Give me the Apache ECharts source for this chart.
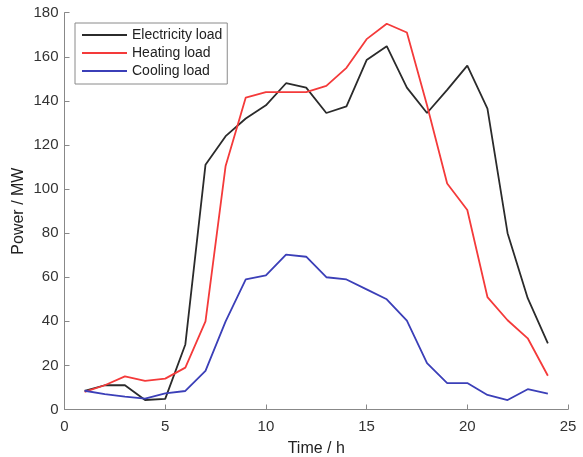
<!DOCTYPE html>
<html>
<head>
<meta charset="utf-8">
<script src="https://cdn.jsdelivr.net/npm/echarts@6/dist/echarts.min.js"></script>
<style>
  html, body { margin: 0; padding: 0; background: #fff; }
  #chart { width: 583px; height: 457px; }
</style>
</head>
<body>
<div id="chart"></div>
<script>
// Hourly load profiles (MW), hours 1..24
const hours = [1,2,3,4,5,6,7,8,9,10,11,12,13,14,15,16,17,18,19,20,21,22,23,24];
const electricityLoad = [8.5,11,11,4.3,4.8,29.5,111,124,132,138,148,146,134.5,137.5,158.5,164.8,146,134.5,145,156,136.5,80,50.5,30];
const heatingLoad = [8,11,15,13,14,19,40,110.5,141.5,144,144,144,146.8,155,168,175,171,138,102.5,90.5,51,40.5,32.3,15.3];
const coolingLoad = [8.5,7,5.8,4.9,7.3,8.4,17.5,40,59,60.8,70.3,69.3,60,59,54.5,50,40.3,21,12,12,6.6,4.3,9.2,7.2];

const seriesNames = ['Electricity load', 'Heating load', 'Cooling load'];
const seriesColors = ['#2b2b2b', '#f43a3a', '#3b3fb8'];
const seriesData = [electricityLoad, heatingLoad, coolingLoad];

const font = 'Liberation Sans, Arial, Helvetica, sans-serif';
const chart = echarts.init(document.getElementById('chart'));

chart.setOption({
  animation: false,
  backgroundColor: '#ffffff',
  grid: { left: 64.5, right: 15, top: 12.7, bottom: 47.5, containLabel: false, outerBoundsMode: 'none' },
  legend: {
    left: 75, top: 23,
    orient: 'vertical',
    data: seriesNames,
    icon: 'rect',
    itemWidth: 45, itemHeight: 2,
    itemGap: 2,
    padding: [4, 5, 5, 7],
    borderColor: '#8a8a8a', borderWidth: 1,
    backgroundColor: '#fff',
    textStyle: { fontFamily: font, fontSize: 14, color: '#222', lineHeight: 16 }
  },
  xAxis: {
    type: 'value', min: 0, max: 25, interval: 5,
    name: 'Time / h', nameLocation: 'middle', nameGap: 31,
    nameMoveOverlap: false,
    nameTextStyle: { fontFamily: font, fontSize: 16, color: '#222' },
    axisLine: { show: true, lineStyle: { color: '#888', width: 1 } },
    axisTick: { show: true, inside: true, length: 5, lineStyle: { color: '#888' } },
    axisLabel: { fontFamily: font, fontSize: 15, color: '#333', margin: 10 },
    splitLine: { show: false }
  },
  yAxis: {
    type: 'value', min: 0, max: 180, interval: 20,
    name: 'Power / MW', nameLocation: 'middle', nameGap: 38,
    nameMoveOverlap: false,
    nameTextStyle: { fontFamily: font, fontSize: 16, color: '#222' },
    axisLine: { show: true, lineStyle: { color: '#888', width: 1 } },
    axisTick: { show: true, inside: true, length: 5, lineStyle: { color: '#888' } },
    axisLabel: { fontFamily: font, fontSize: 15, color: '#333', margin: 6 },
    splitLine: { show: false }
  },
  series: seriesNames.map((name, i) => ({
    name: name,
    type: 'line',
    data: hours.map((h, k) => [h, seriesData[i][k]]),
    showSymbol: false,
    symbol: 'none',
    lineStyle: { color: seriesColors[i], width: 1.8 },
    itemStyle: { color: seriesColors[i] }
  }))
});
</script>
</body>
</html>
